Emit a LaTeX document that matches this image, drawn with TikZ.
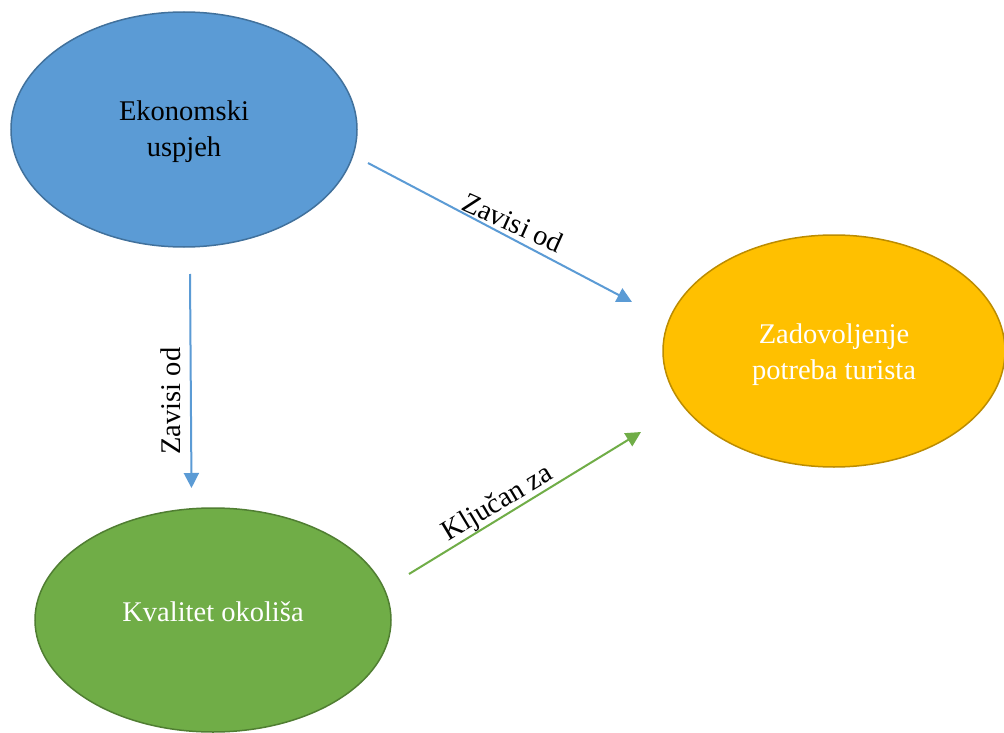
\documentclass[tikz,border=0pt]{standalone}
\usepackage{fontspec}
\setmainfont{Liberation Serif}
\usetikzlibrary{shapes.geometric,arrows.meta}
\definecolor{bluefill}{HTML}{5B9BD5}
\definecolor{blueline}{HTML}{41719C}
\definecolor{yellowfill}{HTML}{FFC000}
\definecolor{yellowline}{HTML}{BC8C00}
\definecolor{greenfill}{HTML}{70AD47}
\definecolor{greenline}{HTML}{507E32}
\begin{document}
\begin{tikzpicture}[x=1pt,y=-1pt,
  bubble/.style={ellipse, inner sep=0pt, line width=1.5pt, font=\fontsize{28.5}{36}\selectfont},
  conn/.style={line width=2pt, -{Triangle[length=15pt,width=15pt]}},
  lbl/.style={font=\fontsize{28.5}{36}\selectfont, inner sep=0pt, anchor=base}]
\path[use as bounding box, fill=white] (0,0) rectangle (1004,733);
\node[bubble, draw=blueline, fill=bluefill, minimum width=346pt, minimum height=235pt, text=black,
  text height=20pt, text depth=37.6pt] (eko) at (184,129.5)
  {\begin{tabular}[t]{@{}c@{}}Ekonomski\\uspjeh\end{tabular}};
\node[bubble, draw=yellowline, fill=yellowfill, minimum width=342pt, minimum height=232pt, text=white,
  text height=20pt, text depth=36pt] (zad) at (834,351)
  {\begin{tabular}[t]{@{}c@{}}Zadovoljenje\\potreba turista\end{tabular}};
\node[bubble, draw=greenline, fill=greenfill, minimum width=356pt, minimum height=224pt, text=white,
  text height=19.5pt, text depth=16pt] (kva) at (213,620) {Kvalitet okoliša};
\coordinate (c1s) at (368,163);
\coordinate (c1e) at (632,302);
\coordinate (c2s) at (190,274);
\coordinate (c2e) at (191.5,488);
\coordinate (c3s) at (409,574);
\coordinate (c3e) at (641,432);
\draw[conn, draw=bluefill, fill=bluefill] (c1s) -- (c1e);
\draw[conn, draw=bluefill, fill=bluefill] (c2s) -- (c2e);
\draw[conn, draw=greenfill, fill=greenfill] (c3s) -- (c3e);
\node[lbl, rotate=-24.2] (l1) at (509,231) {Zavisi od};
\node[lbl, rotate=90] (l2) at (180,401) {Zavisi od};
\node[lbl, rotate=31] (l3) at (501.5,510) {Ključan za};
\end{tikzpicture}
\end{document}
